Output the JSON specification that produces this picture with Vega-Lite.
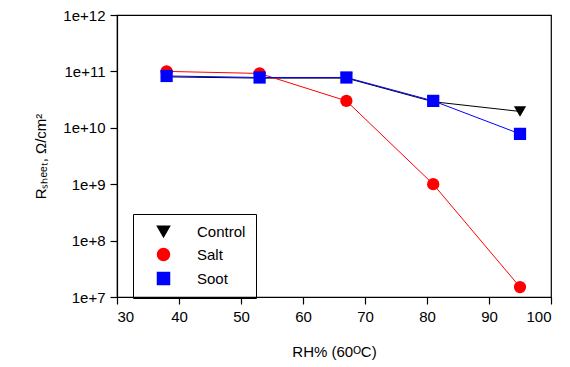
{
  "$schema": "https://vega.github.io/schema/vega-lite/v6.json",
  "width": 434,
  "height": 282,
  "autosize": "none",
  "padding": {"left": 117, "top": 15, "right": 19, "bottom": 70},
  "background": "white",
  "config": {
    "view": {"stroke": "black", "strokeWidth": 1.2},
    "font": "Liberation Sans",
    "axis": {"grid": false, "domainColor": "black", "tickColor": "black", "labelColor": "black", "titleColor": "black", "labelFont": "Liberation Sans", "titleFont": "Liberation Sans", "labelFontSize": 15, "titleFontSize": 15, "titleFontWeight": "normal", "tickSize": 7, "domainWidth": 1.2, "tickWidth": 1.2}
  },
  "data": {"values": [
    {"rh": 38, "r": 8.0e10, "series": "Control"},
    {"rh": 53, "r": 7.6e10, "series": "Control"},
    {"rh": 67, "r": 7.6e10, "series": "Control"},
    {"rh": 81, "r": 2.9e10, "series": "Control"},
    {"rh": 95, "r": 1.95e10, "series": "Control"},
    {"rh": 38, "r": 1.0e11, "series": "Salt"},
    {"rh": 53, "r": 9.2e10, "series": "Salt"},
    {"rh": 67, "r": 3.0e10, "series": "Salt"},
    {"rh": 81, "r": 1.0e9, "series": "Salt"},
    {"rh": 95, "r": 1.5e7, "series": "Salt"},
    {"rh": 38, "r": 8.3e10, "series": "Soot"},
    {"rh": 53, "r": 7.8e10, "series": "Soot"},
    {"rh": 67, "r": 7.8e10, "series": "Soot"},
    {"rh": 81, "r": 3.0e10, "series": "Soot"},
    {"rh": 95, "r": 7.8e9, "series": "Soot"}
  ]},
  "encoding": {
    "x": {"field": "rh", "type": "quantitative", "scale": {"domain": [30, 100], "nice": false, "zero": false},
      "axis": {"values": [30, 40, 50, 60, 70, 80, 90, 100], "title": "RH% (60ᴼC)", "titlePadding": 20, "labelPadding": 5}},
    "y": {"field": "r", "type": "quantitative", "scale": {"type": "log", "domain": [1e7, 1e12]},
      "axis": {"values": [1e7, 1e8, 1e9, 1e10, 1e11, 1e12], "labelExpr": "'1e+' + round(log(datum.value)/LN10)", "title": "Rₛₕₑₑₜ, Ω/cm²", "titlePadding": 14, "labelPadding": 5}},
    "color": {"field": "series", "type": "nominal", "scale": {"domain": ["Control", "Salt", "Soot"], "range": ["black", "#ff0000", "#0000ff"]}}
  },
  "layer": [
    {"mark": {"type": "line", "strokeWidth": 1}},
    {"mark": {"type": "point", "filled": true, "size": 150, "opacity": 1},
      "encoding": {
        "shape": {"field": "series", "type": "nominal", "scale": {"domain": ["Control", "Salt", "Soot"], "range": ["triangle-down", "circle", "square"]},
          "legend": {"title": null, "orient": "none", "legendX": 16, "legendY": 199, "strokeColor": "black", "padding": 10, "labelFontSize": 15, "labelFont": "Liberation Sans", "labelColor": "black", "symbolSize": 144, "rowPadding": 5, "labelOffset": 26, "symbolOffset": 13,
            "encode": {"symbols": {
              "shape": {"condition": [{"test": "datum.value === 'Control'", "value": "M-3.5,0H3.5M-1,-0.85H1L0,0.85Z"}, {"test": "datum.value === 'Salt'", "value": "M-3.5,0H3.5M-0.95,0A0.95,0.95 0 1,0 0.95,0A0.95,0.95 0 1,0 -0.95,0Z"}], "value": "M-3.5,0H3.5M-0.95,-0.95H0.95V0.95H-0.95Z"},
              "stroke": {"condition": [{"test": "datum.value === 'Control'", "value": "black"}, {"test": "datum.value === 'Salt'", "value": "#ff0000"}], "value": "#0000ff"},
              "strokeWidth": {"value": 1}
            }}}}
      }}
  ]
}
